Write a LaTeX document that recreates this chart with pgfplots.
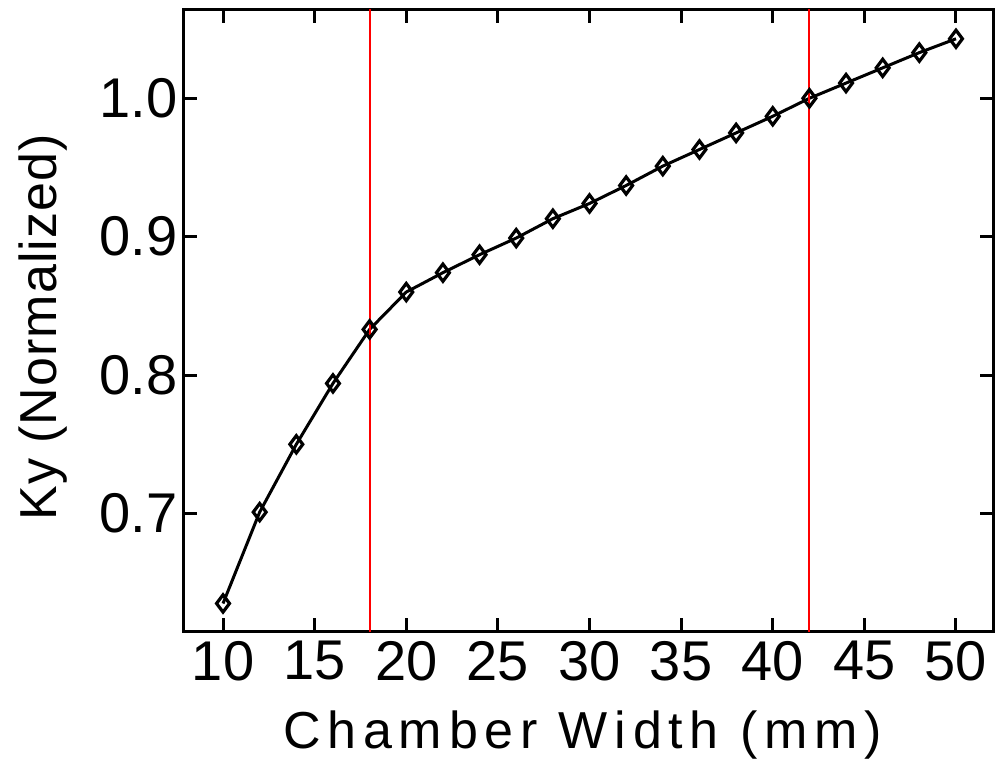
\documentclass[border=0pt]{standalone}
\usepackage{fontspec}
\setmainfont{Liberation Sans}
\newfontfamily\xlabfont{Liberation Sans}[LetterSpace=13]
\newfontfamily\ylabfont{Liberation Sans}[LetterSpace=2]
\usepackage{pgfplots}
\pgfplotsset{compat=1.18}
\definecolor{pured}{RGB}{255,0,0}
\begin{document}
\begin{tikzpicture}
\begin{axis}[
  scale only axis,
  width=404.5pt, height=310.5pt,
  at={(0,0)}, anchor=south west,
  xmin=7.87, xmax=52.02,
  ymin=0.6151, ymax=1.0638,
  xtick={10,15,...,50},
  ytick={0.7,0.8,0.9,1.0},
  tick align=inside,
  major tick length=6.5pt,
  minor tick num=0,
  axis line style={line width=1.5pt},
  every tick/.style={line width=1.5pt, black},
  xtick pos=both, ytick pos=both,
  /pgf/number format/assume math mode=true,
  yticklabel style={/pgf/number format/fixed, /pgf/number format/fixed zerofill, /pgf/number format/precision=1, font=\fontsize{28}{30}\selectfont, inner sep=0pt, anchor=east, xshift=-3pt},
  xticklabel style={font=\fontsize{28}{30}\selectfont, inner sep=0pt, anchor=north, yshift=-5pt},
  xlabel={Chamber Width (mm)},
  ylabel={Ky (Normalized)},
  xlabel style={font=\xlabfont\fontsize{26}{28}\selectfont, at={(rel axis cs:0.5,0)}, anchor=base, yshift=-58.5pt, xshift=-3pt, inner sep=0pt},
  ylabel style={font=\ylabfont\fontsize{26}{28}\selectfont, at={(rel axis cs:0,0.5)}, anchor=base, yshift=63.5pt, xshift=-3.5pt, inner sep=0pt},
  clip=true,
]
\addplot[black, line width=1.5pt, mark=diamond, mark size=4.3pt, mark options={line width=1.6pt, fill=none}] coordinates {
(10,0.635) (12,0.701) (14,0.750) (16,0.794) (18,0.833) (20,0.860)
(22,0.874) (24,0.887) (26,0.899) (28,0.913) (30,0.924) (32,0.937)
(34,0.951) (36,0.963) (38,0.975) (40,0.987) (42,1.000) (44,1.011)
(46,1.022) (48,1.033) (50,1.043)
};
\addplot[draw=pured, line width=1pt] coordinates {(18,0.60) (18,1.08)};
\addplot[draw=pured, line width=1pt] coordinates {(42,0.60) (42,1.08)};
\end{axis}
\pgfresetboundingbox
\useasboundingbox (-92pt,-65.5pt) rectangle (409pt,315.5pt);
\end{tikzpicture}
\end{document}
